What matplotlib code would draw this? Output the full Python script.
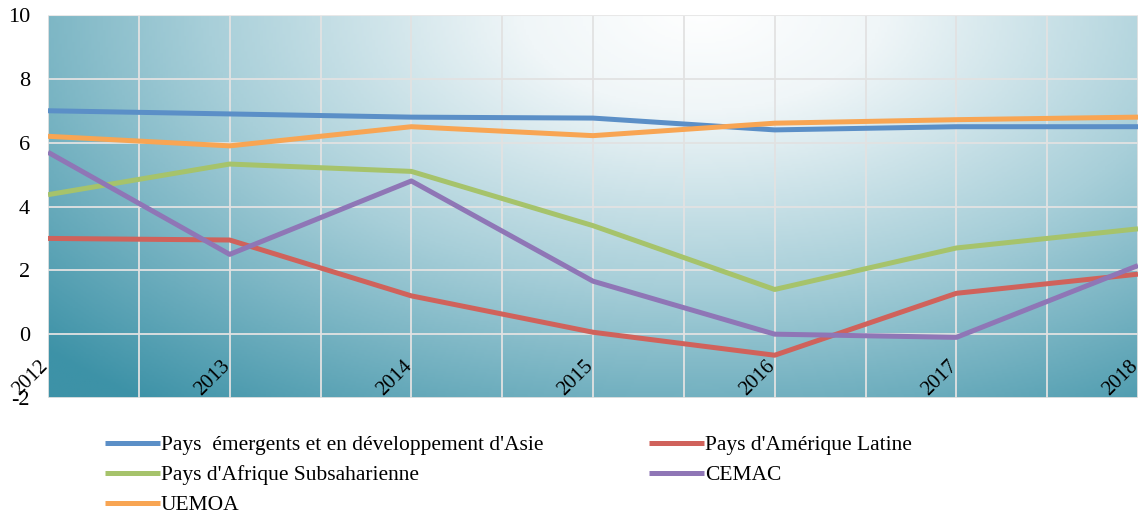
import numpy as np
import matplotlib
matplotlib.use("Agg")
import matplotlib.pyplot as plt
from matplotlib.colors import LinearSegmentedColormap

years = ["2012", "2013", "2014", "2015", "2016", "2017", "2018"]
asie = [7.0, 6.9, 6.8, 6.77, 6.4, 6.5, 6.5]
amerique_latine = [3.0, 2.95, 1.2, 0.06, -0.66, 1.28, 1.88]
afrique_subsah = [4.37, 5.33, 5.1, 3.4, 1.4, 2.7, 3.3]
cemac = [5.7, 2.5, 4.8, 1.66, 0.0, -0.1, 2.15]
uemoa = [6.2, 5.9, 6.5, 6.22, 6.61, 6.72, 6.8]

series = [
    ("Pays  émergents et en développement d'Asie", asie, "#5b8fc7"),
    ("Pays d'Amérique Latine", amerique_latine, "#d0625b"),
    ("Pays d'Afrique Subsaharienne", afrique_subsah, "#a6c36b"),
    ("CEMAC", cemac, "#8f76b6"),
    ("UEMOA", uemoa, "#f8a553"),
]

plt.rcParams['font.family'] = ['Liberation Serif', 'DejaVu Serif']

fig = plt.figure(figsize=(11.43, 5.15), dpi=100)
ax = fig.add_axes([48/1143, 1-398/515, (1138-48)/1143, (398-15)/515])

# background gradient
nx, ny = 400, 200
xs = np.linspace(0, 1, nx)
ys = np.linspace(0, 1, ny)
X, Y = np.meshgrid(xs, ys)
D = np.sqrt(((X-0.6)/0.75)**2 + ((Y-1.02)/1.2)**2)
D = np.clip(D/1.1, 0, 1)
cmap = LinearSegmentedColormap.from_list("bg", [(0, "#ffffff"), (0.2, "#f0f6f8"), (0.55, "#a8cfd9"), (1.0, "#3d92a7")])
ax.imshow(D, cmap=cmap, extent=[0, 1, 0, 1], origin="lower", aspect="auto",
          transform=ax.transAxes, zorder=0, vmin=0, vmax=1)

x = np.arange(len(years))
for label, vals, col in series:
    ax.plot(x, vals, color=col, lw=3.6, label=label, zorder=3, solid_capstyle='butt')

ax.set_xlim(0, len(years)-1)
ax.set_ylim(-2, 10)
ax.set_yticks(np.arange(-2, 11, 2))
ax.set_yticklabels([str(v) for v in range(-2, 11, 2)], fontsize=16)
ax.set_xticks(np.arange(0, len(years)-0.9, 0.5), minor=False)
ax.grid(True, color="#e2e2e2", lw=1.3, zorder=1)
ax.tick_params(axis='both', length=0)
ax.tick_params(axis='y', pad=13)
ax.set_xticklabels([])
for s in ax.spines.values():
    s.set_visible(False)
ax.axhline(10, color="#e8e8e8", lw=1.5, zorder=2)

for i, yr in enumerate(years):
    ax.annotate(yr, xy=(i, 0), xytext=(3.2, -16), textcoords='offset points',
                rotation=45, ha='right', va='top', rotation_mode='default',
                fontsize=15, zorder=5, annotation_clip=False)

handles, labels = ax.get_legend_handles_labels()
order = [0, 2, 4, 1, 3]
leg = fig.legend([handles[i] for i in order], [labels[i] for i in order],
                 loc='upper left', bbox_to_anchor=(105/1143, 1-435/515),
                 ncol=2, frameon=False, fontsize=15.5, handlelength=2.55, handletextpad=0.05,
                 columnspacing=4.9, labelspacing=0.47, borderpad=0, borderaxespad=0)
for ln in leg.get_lines():
    ln.set_linewidth(3.6)

fig.savefig("out.png", dpi=100)
